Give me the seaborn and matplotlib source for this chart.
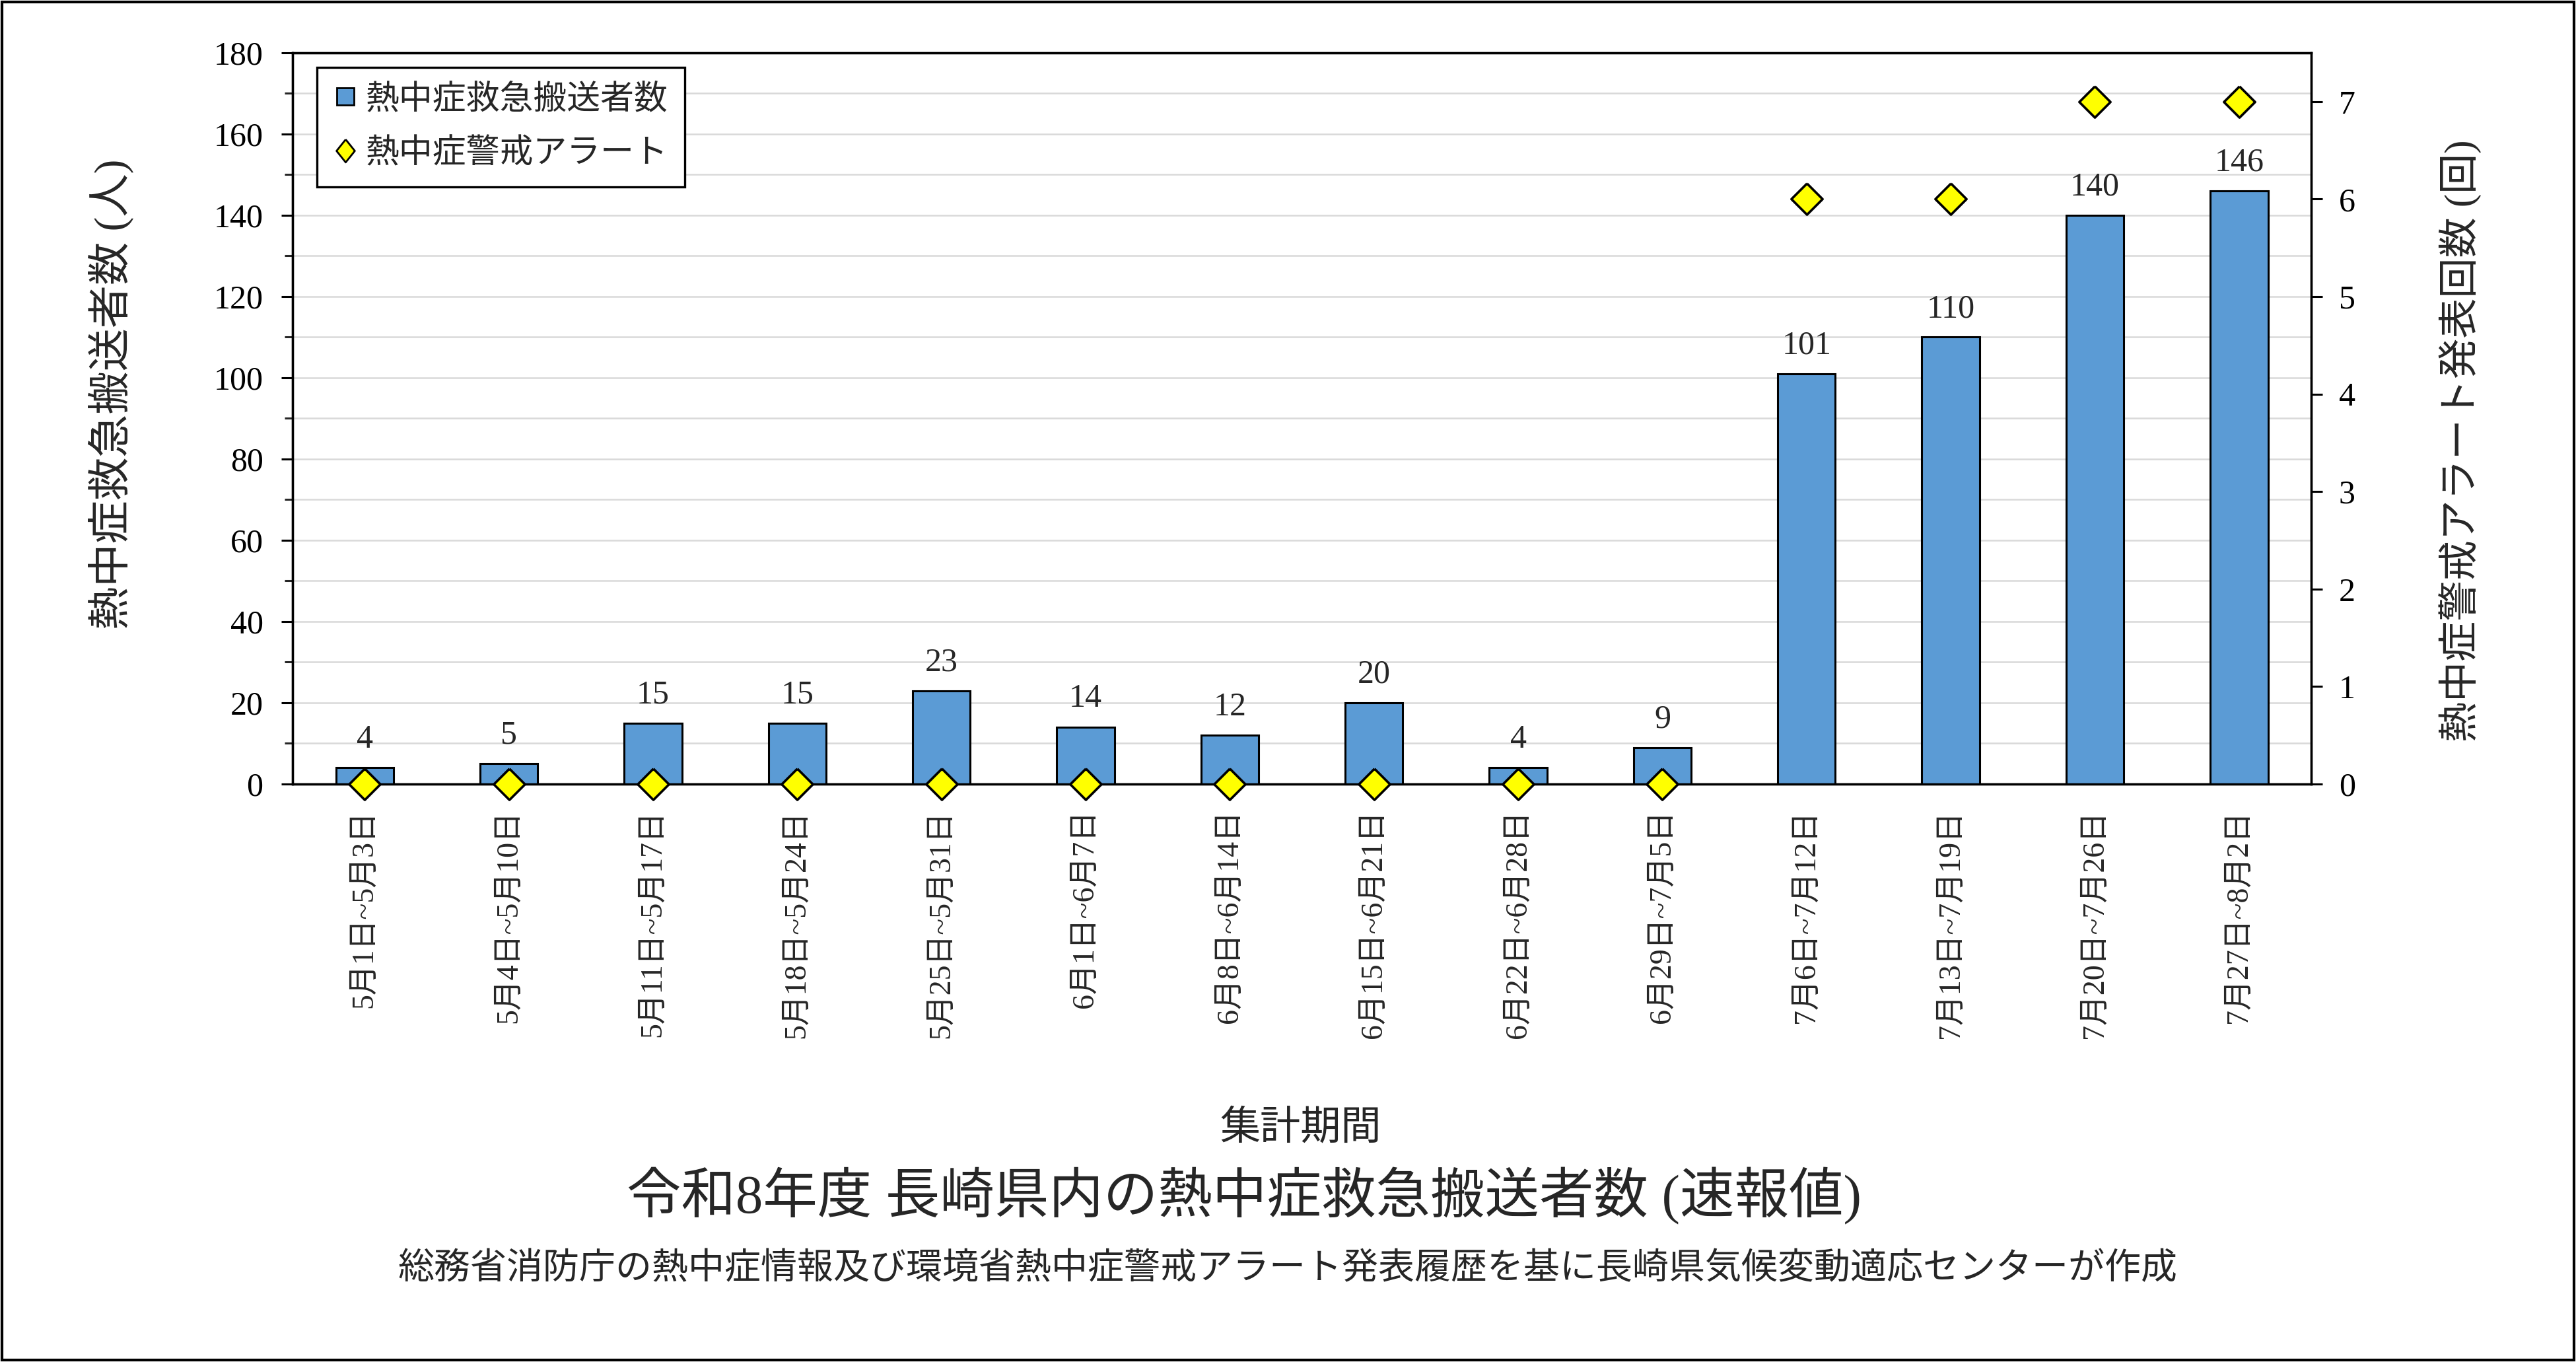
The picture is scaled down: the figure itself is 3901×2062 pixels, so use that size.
import numpy as np
import pandas as pd
import matplotlib
matplotlib.use("Agg")
import matplotlib.pyplot as plt
import seaborn as sns
from matplotlib.lines import Line2D
from matplotlib.ticker import MultipleLocator
from matplotlib.patches import Rectangle

periods = ["5月1日~5月3日", "5月4日~5月10日", "5月11日~5月17日", "5月18日~5月24日",
           "5月25日~5月31日", "6月1日~6月7日", "6月8日~6月14日", "6月15日~6月21日",
           "6月22日~6月28日", "6月29日~7月5日", "7月6日~7月12日", "7月13日~7月19日",
           "7月20日~7月26日", "7月27日~8月2日"]
transports = [4, 5, 15, 15, 23, 14, 12, 20, 4, 9, 101, 110, 140, 146]
alerts = [0, 0, 0, 0, 0, 0, 0, 0, 0, 0, 6, 6, 7, 7]

legend_labels = ["熱中症救急搬送者数", "熱中症警戒アラート"]
left_label = "熱中症救急搬送者数 (人)"
right_label = "熱中症警戒アラート発表回数 (回)"
xlabel = "集計期間"
title = "令和8年度 長崎県内の熱中症救急搬送者数 (速報値)"
subtitle = "総務省消防庁の熱中症情報及び環境省熱中症警戒アラート発表履歴を基に長崎県気候変動適応センターが作成"

left_ticks = list(range(0, 181, 20))
right_ticks = list(range(0, 8))

sns.set_theme(style="white")
plt.rcParams["font.family"] = ["Liberation Serif", "Noto Sans CJK JP"]
plt.rcParams["axes.unicode_minus"] = False

BAR_COLOR = "#5B9BD5"
df = pd.DataFrame({"period": periods, "count": transports, "alerts": alerts})

fig = plt.figure(figsize=(19.505, 10.31), dpi=200)
ax = fig.add_axes([0.11356, 0.42435, 0.78365, 0.53686])

sns.barplot(data=df, x="period", y="count", color=BAR_COLOR, saturation=1,
            width=0.4, edgecolor="black", linewidth=1.1, ax=ax, zorder=3)
ax.bar_label(ax.containers[0], padding=7, fontsize=18)

ax.set_ylim(0, 180)
ax.set_yticks(left_ticks)
ax.yaxis.set_minor_locator(MultipleLocator(10))
ax.grid(False)
ax.grid(which="both", axis="y", color="#D9D9D9", linewidth=0.9, zorder=0)
ax.set_axisbelow(True)
ax.tick_params(axis="y", which="major", direction="out", length=6, width=1.1,
               pad=10, labelsize=18, left=True, colors="black")
ax.tick_params(axis="y", which="minor", direction="out", length=4.5, width=1.1, left=True)
ax.set_xticks(range(len(periods)))
ax.set_xticklabels(periods, rotation=90, fontsize=16.5)
ax.tick_params(axis="x", length=0, pad=14)
ax.set_xlabel("")
ax.set_ylabel("")
for s in ax.spines.values():
    s.set_visible(True)
    s.set_color("black")
    s.set_linewidth(1.2)

ax2 = ax.twinx()
diamond = [(0, 1), (1, 0), (0, -1), (-1, 0), (0, 1)]
sns.scatterplot(data=df, x="period", y="alerts", ax=ax2, marker=diamond,
                s=17 ** 2, color="#FFFF00", edgecolor="black", linewidth=1.3,
                clip_on=False, zorder=6, legend=False)
ax2.set_ylim(0, 7.5)
ax2.set_yticks(right_ticks)
ax2.tick_params(axis="y", direction="out", length=6, width=1.1, pad=9,
                labelsize=18, right=True, colors="black")
ax2.set_ylabel("")
ax2.set_xlabel("")
ax2.grid(False)
for s in ax2.spines.values():
    s.set_color("black")
    s.set_linewidth(1.2)
ax.set_xlim(-0.5, len(periods) - 0.5)

leg_diamond = [(0, 1), (0.8, 0), (0, -1), (-0.8, 0), (0, 1)]
h1 = Line2D([], [], marker="s", linestyle="none", markerfacecolor=BAR_COLOR,
            markeredgecolor="black", markersize=9.5, markeredgewidth=1.0)
h2 = Line2D([], [], marker=leg_diamond, linestyle="none", markerfacecolor="#FFFF00",
            markeredgecolor="black", markersize=12.5, markeredgewidth=1.0)
leg = ax2.legend([h1, h2], legend_labels, loc="upper left", bbox_to_anchor=(0.012, 0.98),
                 frameon=True, fancybox=False, edgecolor="black", framealpha=1,
                 fontsize=18.3, handlelength=0.7, handletextpad=0.25, borderpad=0.5,
                 labelspacing=0.68, borderaxespad=0)
leg.get_frame().set_linewidth(1.2)

fig.text(0.0433, 0.7105, left_label, rotation=90, ha="center", va="center", fontsize=23.5)
fig.text(0.955, 0.6765, right_label, rotation=90, ha="center", va="center", fontsize=22)
fig.text(0.505, 0.1712, xlabel, ha="center", va="center", fontsize=22)
fig.text(0.483, 0.1217, title, ha="center", va="center", fontsize=29.7)
fig.text(0.500, 0.0674, subtitle, ha="center", va="center", fontsize=19.8)

fig.patches.append(Rectangle((0.0008, 0.0015), 0.9984, 0.997, transform=fig.transFigure,
                             fill=False, edgecolor="black", linewidth=1.5))

fig.savefig("out.png", dpi=200)
